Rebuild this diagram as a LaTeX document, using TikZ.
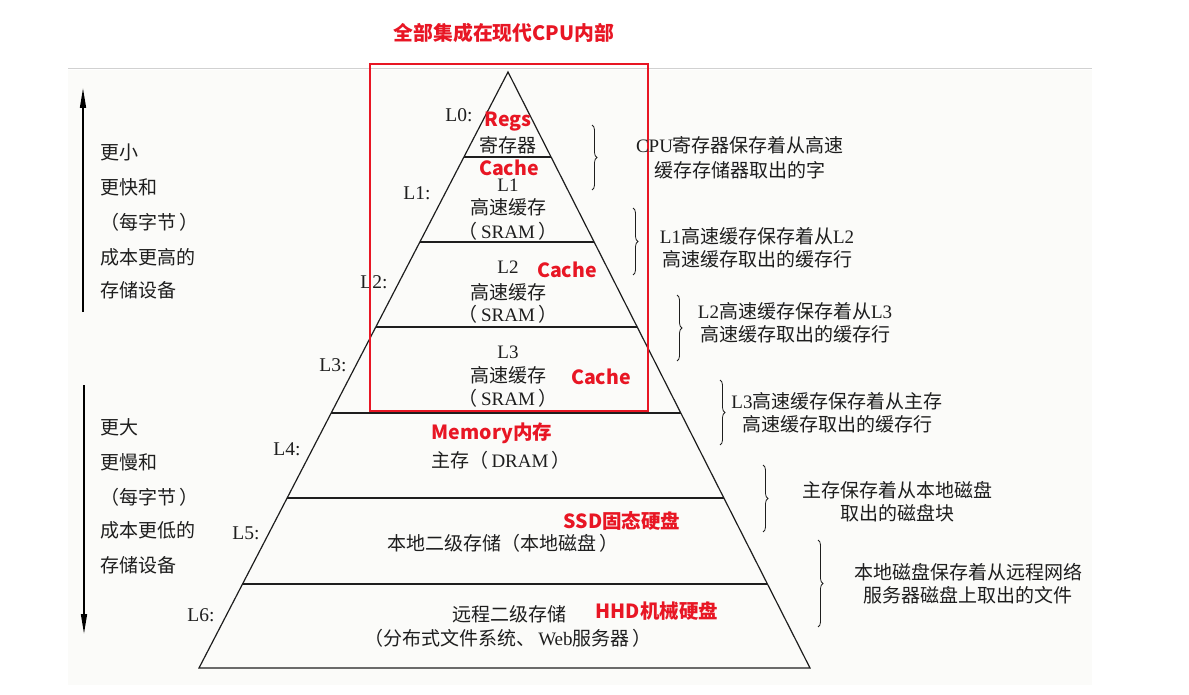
\documentclass[tikz,border=0pt]{standalone}
\usepackage{fontspec}
\setmainfont{Liberation Serif}
\newfontfamily\cjk{Noto Sans CJK SC}
\usetikzlibrary{decorations.pathreplacing,arrows.meta}
\definecolor{redc}{RGB}{232,22,36}
\definecolor{ink}{RGB}{30,30,30}
\definecolor{scan}{RGB}{251,251,249}
\newcommand{\zh}[1]{{\cjk #1}}
\begin{document}
\begin{tikzpicture}[x=1pt,y=-1pt,
  lbl/.style={inner sep=0pt, text=ink, font=\fontsize{19.5}{22}\selectfont},
  txt/.style={inner sep=0pt, text=ink, font=\fontsize{19}{22}\selectfont},
  hl/.style={inner sep=0pt, text=redc, font=\cjk\bfseries\fontsize{19.5}{22}\selectfont},
  layer/.style={line width=1.2pt, draw=ink},
  brc/.style={decorate, decoration={brace, amplitude=5pt}, line width=0.8pt, draw=ink},
  arr/.style={line width=1.6pt, draw=black, -{Triangle[length=20pt,width=6pt]}},
]
\useasboundingbox (0,0) rectangle (1189,695);
\fill[white] (0,0) rectangle (1189,695);
\fill[scan] (68,70) rectangle (1092,685);
\draw[black!18, line width=1pt] (68,69) -- (1092,69);

% title
\node[hl, font=\cjk\bfseries\fontsize{19.8}{22}\selectfont] (title) at (504,33) {全部集成在现代CPU内部};

% pyramid
\coordinate (apex) at (508,72);
\coordinate (bl) at (199,668);
\coordinate (br) at (810,668);
\coordinate (l1) at (464,157);   \coordinate (r1) at (551,157);
\coordinate (l2) at (420,242);   \coordinate (r2) at (594,242);
\coordinate (l3) at (376,327);   \coordinate (r3) at (637,327);
\coordinate (l4) at (331,413);   \coordinate (r4) at (681,413);
\coordinate (l5) at (287,498);   \coordinate (r5) at (724,498);
\coordinate (l6) at (242,584);   \coordinate (r6) at (767,584);
\draw[layer] (bl) -- (apex) -- (br) -- cycle;
\draw[layer] (l1) -- (r1);
\draw[layer] (l2) -- (r2);
\draw[layer] (l3) -- (r3);
\draw[layer] (l4) -- (r4);
\draw[layer] (l5) -- (r5);
\draw[layer] (l6) -- (r6);

% level labels
\node[lbl] (L0) at (459,115) {L0:};
\node[lbl] (L1) at (417,193) {L1:};
\node[lbl] (L2) at (374,282) {L2:};
\node[lbl] (L3) at (333,365) {L3:};
\node[lbl] (L4) at (287,449) {L4:};
\node[lbl] (L5) at (246,533) {L5:};
\node[lbl] (L6) at (201,615) {L6:};

% pyramid contents
\node[txt] (reg) at (508,145) {\zh{寄存器}};
\node[txt] (l1a) at (508,185) {L1};
\node[txt] (l1b) at (508,207) {\zh{高速缓存}};
\node[txt] (l1c) at (508,231) {\zh{（}\,SRAM\,\zh{）}};
\node[txt] (l2a) at (508,267) {L2};
\node[txt] (l2b) at (508,292) {\zh{高速缓存}};
\node[txt] (l2c) at (508,314) {\zh{（}\,SRAM\,\zh{）}};
\node[txt] (l3a) at (508,352) {L3};
\node[txt] (l3b) at (508,375) {\zh{高速缓存}};
\node[txt] (l3c) at (508,398) {\zh{（}\,SRAM\,\zh{）}};
\node[txt] (l4a) at (501,460) {\zh{主存（}\,DRAM\,\zh{）}};
\node[txt] (l5a) at (503,543) {\zh{本地二级存储（本地磁盘\,）}};
\node[txt] (l6a) at (509,614) {\zh{远程二级存储}};
\node[txt] (l6b) at (508,638) {\zh{（分布式文件系统、}\,Web\zh{服务器\,）}};

% red annotations
\node[hl] (regs) at (508,122) {Regs};
\node[hl] (c1) at (509,168) {Cache};
\node[hl] (c2) at (567,270) {Cache};
\node[hl] (c3) at (601,377) {Cache};
\node[hl] (mem) at (492,433) {Memory内存};
\node[hl] (ssd) at (622,521) {SSD固态硬盘};
\node[hl] (hhd) at (657,611) {HHD机械硬盘};

% red box
\draw[redc, line width=2.2pt] (370,64) rectangle (648,411);

% left arrows and texts
\coordinate (u0) at (83,312); \coordinate (u1) at (83,88);
\coordinate (d0) at (84,385); \coordinate (d1) at (84,634);
\draw[arr] (u0) -- (u1);
\draw[arr] (d0) -- (d1);
\node[txt, anchor=west] (s1) at (100,152) {\zh{更小}};
\node[txt, anchor=west] (s2) at (100,187) {\zh{更快和}};
\node[txt, anchor=west] (s3) at (100,222) {\zh{（每字节\,）}};
\node[txt, anchor=west] (s4) at (100,257) {\zh{成本更高的}};
\node[txt, anchor=west] (s5) at (100,290) {\zh{存储设备}};
\node[txt, anchor=west] (b1) at (100,427) {\zh{更大}};
\node[txt, anchor=west] (b2) at (100,462) {\zh{更慢和}};
\node[txt, anchor=west] (b3) at (100,497) {\zh{（每字节\,）}};
\node[txt, anchor=west] (b4) at (100,530) {\zh{成本更低的}};
\node[txt, anchor=west] (b5) at (100,565) {\zh{存储设备}};

% braces
\coordinate (k1t) at (592,125); \coordinate (k1b) at (592,190);
\coordinate (k2t) at (633,208); \coordinate (k2b) at (633,275);
\coordinate (k3t) at (677,295); \coordinate (k3b) at (677,361);
\coordinate (k4t) at (720,380); \coordinate (k4b) at (720,445);
\coordinate (k5t) at (763,465); \coordinate (k5b) at (763,532);
\coordinate (k6t) at (818,540); \coordinate (k6b) at (818,627);
\draw[brc] (k1t) -- (k1b);
\draw[brc] (k2t) -- (k2b);
\draw[brc] (k3t) -- (k3b);
\draw[brc] (k4t) -- (k4b);
\draw[brc] (k5t) -- (k5b);
\draw[brc] (k6t) -- (k6b);

% right descriptions
\node[txt] (t1a) at (740,145) {CPU\zh{寄存器保存着从高速}};
\node[txt] (t1b) at (740,170) {\zh{缓存存储器取出的字}};
\node[txt] (t2a) at (757,236) {L1\zh{高速缓存保存着从}L2};
\node[txt] (t2b) at (757,259) {\zh{高速缓存取出的缓存行}};
\node[txt] (t3a) at (795,311) {L2\zh{高速缓存保存着从}L3};
\node[txt] (t3b) at (795,334) {\zh{高速缓存取出的缓存行}};
\node[txt] (t4a) at (837,401) {L3\zh{高速缓存保存着从主存}};
\node[txt] (t4b) at (837,424) {\zh{高速缓存取出的缓存行}};
\node[txt] (t5a) at (897,490) {\zh{主存保存着从本地磁盘}};
\node[txt] (t5b) at (897,513) {\zh{取出的磁盘块}};
\node[txt] (t6a) at (968,572) {\zh{本地磁盘保存着从远程网络}};
\node[txt] (t6b) at (968,595) {\zh{服务器磁盘上取出的文件}};
\end{tikzpicture}
\end{document}
